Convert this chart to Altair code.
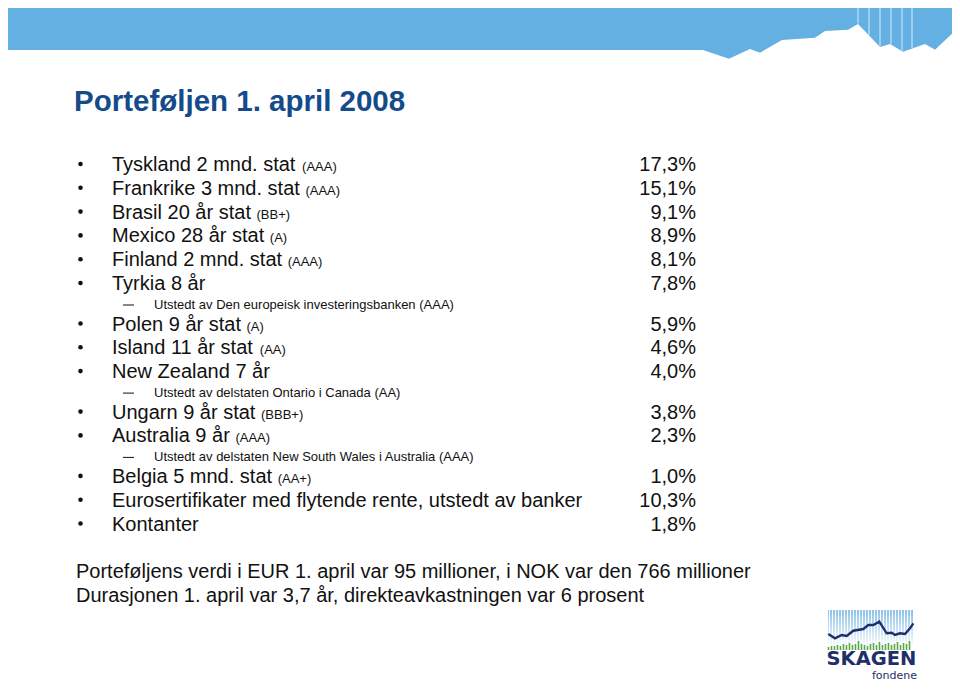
import altair as alt
import pandas as pd
import numpy as np

# ---------------- content ----------------
title = "Porteføljen 1. april 2008"

holdings = [
    "Tyskland 2 mnd. stat", "Frankrike 3 mnd. stat", "Brasil 20 år stat",
    "Mexico 28 år stat", "Finland 2 mnd. stat", "Tyrkia 8 år",
    "Polen 9 år stat", "Island 11 år stat", "New Zealand 7 år",
    "Ungarn 9 år stat", "Australia 9 år", "Belgia 5 mnd. stat",
    "Eurosertifikater med flytende rente, utstedt av banker", "Kontanter",
]
ratings = ["(AAA)", "(AAA)", "(BB+)", "(A)", "(AAA)", "",
           "(A)", "(AA)", "", "(BBB+)", "(AAA)", "(AA+)", "", ""]
weights = [17.3, 15.1, 9.1, 8.9, 8.1, 7.8, 5.9, 4.6, 4.0, 3.8, 2.3, 1.0, 10.3, 1.8]

sub_after = [5, 8, 10]
sub_notes = [
    "Utstedt av Den europeisk investeringsbanken (AAA)",
    "Utstedt av delstaten Ontario i Canada (AA)",
    "Utstedt av delstaten New South Wales i Australia (AAA)",
]

footer_lines = [
    "Porteføljens verdi i EUR 1. april var 95 millioner, i NOK var den 766 millioner",
    "Durasjonen 1. april var 3,7 år, direkteavkastningen var 6 prosent",
]

# decoration: banner ridge and logo
ridge_x = [2, 703, 729, 750, 760, 782, 815, 825, 848, 858, 880, 890, 903, 925, 935, 958, 960]
ridge_y = [50, 50, 58.7, 49, 52.7, 40, 37.7, 31, 29.7, 24, 47, 44, 51.7, 44, 49.7, 28, 25]
ridge_lines_x = [858, 869, 880, 891, 902, 912]

logo_line_x = [828.3, 835, 841.7, 846.7, 853.3, 863.3, 868.3, 873.3, 879.3,
               886.7, 891.7, 895, 900, 905, 910, 913.3]
logo_line_y = [634, 638.3, 635, 636, 630.7, 629, 625, 625, 621.7,
               633.3, 632.7, 635, 633.3, 634, 628.3, 623.3]
logo_bar_heights = [3, 4, 4, 5, 4, 6, 5, 7, 5, 6, 9, 6, 5, 4, 6, 7, 5,
                    8, 5, 6, 7, 5, 6, 8, 5, 7, 6, 9]

# ---------------- layout ----------------
W, H, M = 960, 690, 8
BLUE = "#64b0e2"
TITLE_C = "#134b8b"
TEXT_C = "#111111"
NAVY = "#1f2f6b"
FONT = "Liberation Sans, Arial, Helvetica, sans-serif"

ARIAL = dict(zip("ABCDEFGHIJKLMNOPQRSTUVWXYZ",
                 [667, 667, 722, 722, 667, 611, 778, 722, 278, 500, 667, 556, 833,
                  722, 778, 667, 778, 722, 667, 611, 722, 667, 944, 667, 667, 611]))
ARIAL.update(dict(zip("abcdefghijklmnopqrstuvwxyz",
                      [556, 556, 500, 556, 556, 278, 556, 556, 222, 222, 500, 222, 833,
                       556, 556, 556, 556, 333, 500, 278, 556, 500, 722, 500, 500, 500])))
ARIAL.update({" ": 278, ",": 278, ".": 278, "%": 889, "(": 333, ")": 333, "+": 584,
              "-": 333, "å": 556, "ø": 611, "æ": 889})
for d in "0123456789":
    ARIAL[d] = 556


def tw(s, size):
    return sum(ARIAL.get(c, 556) for c in s) * size / 1000.0


main_rows, sub_rows = [], []
y = 171.0
prev = None
for i, lab in enumerate(holdings):
    if prev is not None:
        y += 23.8 if prev == "main" else 22.0
    main_rows.append(dict(text=lab, x=112, y=y,
                          rx=112 + tw(lab + " ", 20), rating=ratings[i],
                          pct=f"{weights[i]:.1f}".replace(".", ",") + "%",
                          px=696, bx=80.5, by=y - 7))
    prev = "main"
    if i in sub_after:
        y += 18.5
        sub_rows.append(dict(text=sub_notes[sub_after.index(i)], x=154, y=y,
                             dx1=123, dx2=134, dy=y - 3.5))
        prev = "sub"

main_df = pd.DataFrame(main_rows)
sub_df = pd.DataFrame(sub_rows)
rating_df = main_df[main_df["rating"] != ""]
footer_df = pd.DataFrame(dict(text=footer_lines, x=[76, 76], y=[578, 602]))

# scales map page pixels (inside the 8px page margin) onto the plot area
xs = alt.Scale(domain=[M, W - M], nice=False, zero=False)
ys = alt.Scale(domain=[M, H - M], nice=False, zero=False, reverse=True)


def X(f):
    return alt.X(f, type="quantitative", scale=xs, axis=None)


def Y(f):
    return alt.Y(f, type="quantitative", scale=ys, axis=None)


def text_layer(df, field, size, align="left", color=TEXT_C, weight="normal", font=FONT, xf="x", yf="y"):
    return alt.Chart(df).mark_text(
        fontSize=size, font=font, align=align, baseline="alphabetic",
        color=color, fontWeight=weight
    ).encode(x=X(xf), y=Y(yf), text=alt.Text(field, type="nominal"))


# banner
ridge_df = pd.DataFrame(dict(x=ridge_x, top=[2] * len(ridge_x), bottom=ridge_y))
banner = alt.Chart(ridge_df).mark_area(color=BLUE, orient="vertical", interpolate="linear").encode(
    x=X("x"), y=Y("top"), y2="bottom")
rl_df = pd.DataFrame(dict(x=ridge_lines_x, top=[2] * len(ridge_lines_x),
                          bottom=np.interp(ridge_lines_x, ridge_x, ridge_y) - 0.5))
ridge_lines = alt.Chart(rl_df).mark_rule(color="white", strokeWidth=1, opacity=0.75).encode(
    x=X("x"), y=Y("top"), y2="bottom")

title_df = pd.DataFrame(dict(text=[title], x=[74], y=[111]))
title_layer = text_layer(title_df, "text", 29.5, color=TITLE_C, weight="bold")

bullets = alt.Chart(main_df).mark_point(filled=True, shape="circle", size=21, color=TEXT_C, opacity=1).encode(
    x=X("bx"), y=Y("by"))
mains = text_layer(main_df, "text", 20)
rats = text_layer(rating_df, "rating", 13, xf="rx")
pcts = text_layer(main_df, "pct", 20, align="right", xf="px")
dashes = alt.Chart(sub_df).mark_rule(color=TEXT_C, strokeWidth=1).encode(
    x=X("dx1"), x2="dx2", y=Y("dy"))
subs = text_layer(sub_df, "text", 13)
footer = text_layer(footer_df, "text", 20)

# logo
grad_df = pd.DataFrame(dict(x=[828], x2=[913], y=[610], y2=[647]))
grad = alt.Chart(grad_df).mark_rect(
    color=alt.LinearGradient(gradient="linear", x1=0, x2=0, y1=0, y2=1,
                             stops=[alt.GradientStop(color="#7fbbe6", offset=0),
                                    alt.GradientStop(color="#ffffff", offset=1)])
).encode(x=X("x"), x2="x2", y=Y("y"), y2="y2")
gap_x = [829.5 + 3 * k for k in range(28)]
gaps_df = pd.DataFrame(dict(x=gap_x, y=[610] * 28, y2=[647] * 28))
gaps = alt.Chart(gaps_df).mark_rule(color="white", strokeWidth=1.2).encode(
    x=X("x"), y=Y("y"), y2="y2")
bars_df = pd.DataFrame(dict(x=[828.5 + 3 * k for k in range(len(logo_bar_heights))],
                            y=[650] * len(logo_bar_heights),
                            y2=[650 - h for h in logo_bar_heights]))
gbars = alt.Chart(bars_df).mark_rule(color="#5aa843", strokeWidth=1.6).encode(
    x=X("x"), y=Y("y"), y2="y2")
ll_df = pd.DataFrame(dict(x=logo_line_x, y=logo_line_y))
lline = alt.Chart(ll_df).mark_line(color=NAVY, strokeWidth=2.4).encode(x=X("x"), y=Y("y"))
logo_txt = text_layer(pd.DataFrame(dict(text=["SKAGEN"], x=[871.5], y=[665])), "text", 19.5,
                      align="center", color=NAVY, weight="bold", font="DejaVu Sans, Verdana, sans-serif")
logo_sub = text_layer(pd.DataFrame(dict(text=["fondene"], x=[917], y=[679])), "text", 11,
                      align="right", color=NAVY, font="DejaVu Sans, Verdana, sans-serif")

chart = alt.layer(
    banner, ridge_lines, title_layer, bullets, mains, rats, pcts, dashes, subs, footer,
    grad, gaps, gbars, lline, logo_txt, logo_sub
).properties(
    width=W - 2 * M, height=H - 2 * M, padding=0, background="white",
    autosize=alt.AutoSizeParams(type="none")
).configure_view(stroke=None)

chart.save("out.html", embed_options={"renderer": "svg", "actions": False})
